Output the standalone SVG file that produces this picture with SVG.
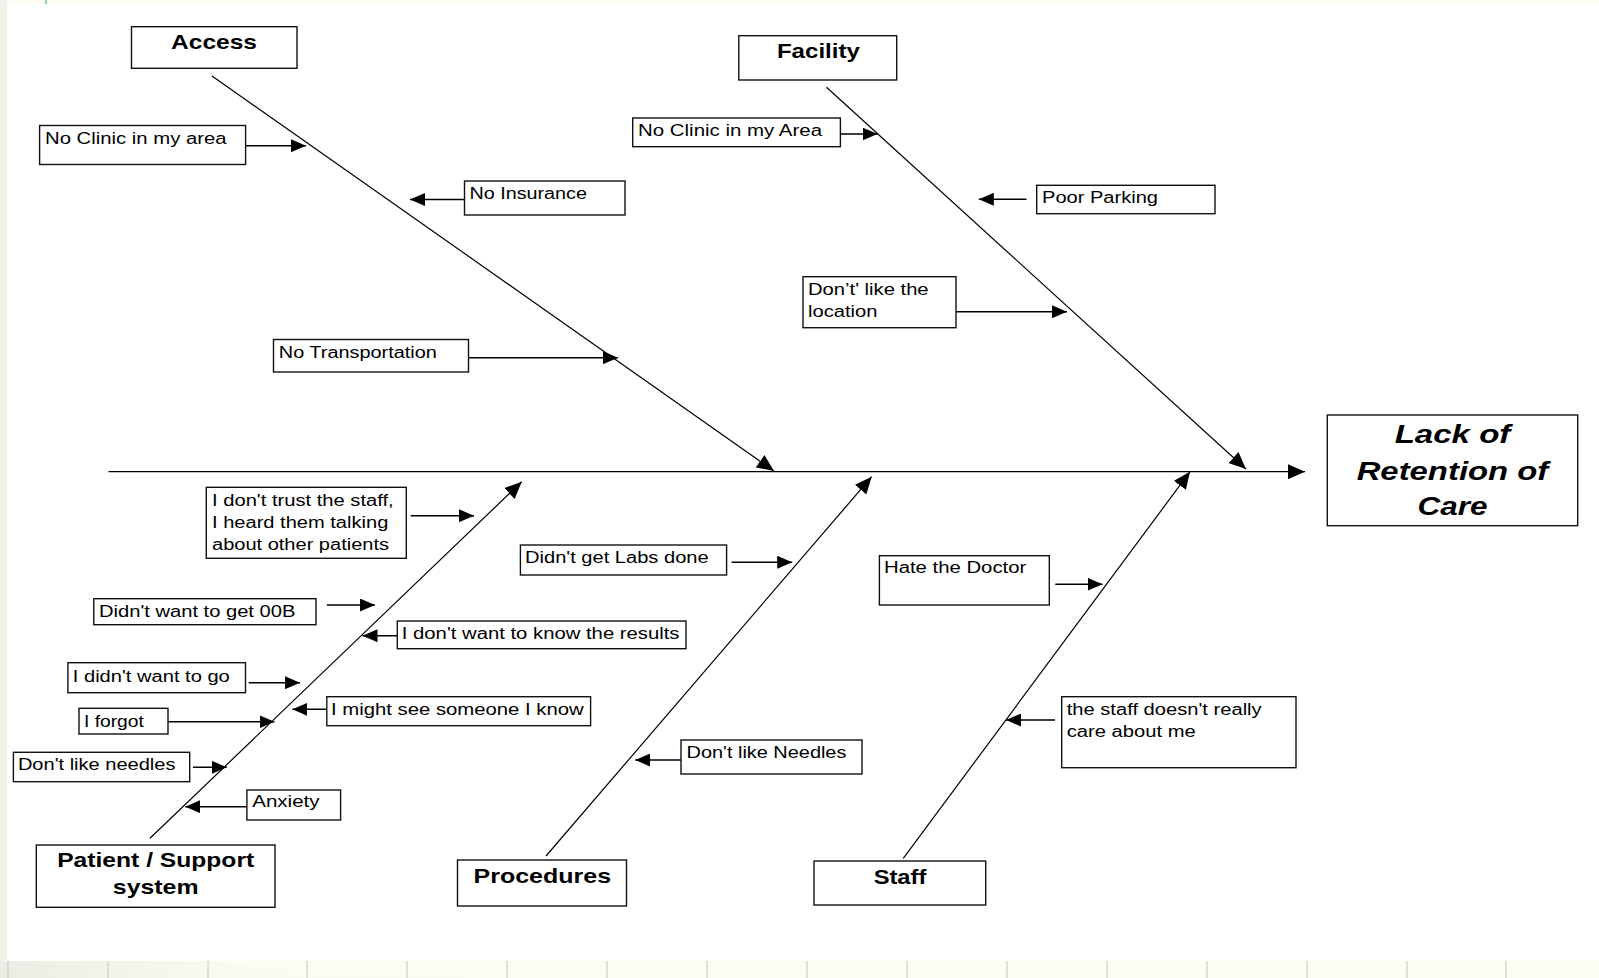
<svg xmlns="http://www.w3.org/2000/svg" width="1599" height="978" viewBox="0 0 1599 978">
<style>
.box{fill:#fff;stroke:#111;stroke-width:1.4}
.t{font-family:"Liberation Sans",Arial,sans-serif;font-size:16px;fill:#000}
.h{font-family:"Liberation Sans",Arial,sans-serif;font-size:21px;font-weight:bold;fill:#000;text-anchor:middle}
.m{font-family:"Liberation Sans",Arial,sans-serif;font-size:25px;font-weight:bold;font-style:italic;fill:#000;text-anchor:middle}
.bone{stroke:#000;stroke-width:1.2;fill:none;marker-end:url(#bh)}
.lab{stroke:#000;stroke-width:1.4;fill:none;marker-end:url(#ah)}
.tick{stroke:#c4c4bc;stroke-width:1}
</style>
<defs>
<marker id="ah" markerUnits="userSpaceOnUse" markerWidth="16" markerHeight="13" refX="15" refY="6.5" orient="auto"><path d="M0,0 L15,6.5 L0,13 z" fill="#000"/></marker>
<marker id="bh" markerUnits="userSpaceOnUse" markerWidth="18" markerHeight="15" refX="17" refY="7.5" orient="auto"><path d="M0,0 L17,7.5 L0,15 z" fill="#000"/></marker>
<linearGradient id="bg" x1="0" y1="0" x2="1" y2="0"><stop offset="0" stop-color="#ececE4"/><stop offset="0.15" stop-color="#fbfbf1"/><stop offset="1" stop-color="#fdfdf4"/></linearGradient>
</defs>
<rect x="0" y="0" width="1599" height="978" fill="#fff"/>
<rect x="0" y="0" width="1599" height="4" fill="#fbfbf1"/>
<rect x="0" y="0" width="7" height="978" fill="#f1f1e9"/>
<line x1="46" y1="0" x2="46" y2="4" stroke="#6cc0b0" stroke-width="1.5"/>
<rect x="0" y="961" width="1599" height="17" fill="url(#bg)"/>
<g class="tick">
<line x1="8" y1="961" x2="8" y2="978"/><line x1="108" y1="961" x2="108" y2="978"/><line x1="208" y1="961" x2="208" y2="978"/><line x1="307" y1="961" x2="307" y2="978"/><line x1="407" y1="961" x2="407" y2="978"/><line x1="507" y1="961" x2="507" y2="978"/><line x1="607" y1="961" x2="607" y2="978"/><line x1="707" y1="961" x2="707" y2="978"/><line x1="807" y1="961" x2="807" y2="978"/><line x1="907" y1="961" x2="907" y2="978"/><line x1="1007" y1="961" x2="1007" y2="978"/><line x1="1107" y1="961" x2="1107" y2="978"/><line x1="1207" y1="961" x2="1207" y2="978"/><line x1="1307" y1="961" x2="1307" y2="978"/><line x1="1407" y1="961" x2="1407" y2="978"/><line x1="1506" y1="961" x2="1506" y2="978"/>
</g>

<g id="connectors">
<path class="bone" d="M108.5,471.7 L1305,471.7"/>
<path class="bone" d="M212,76 L774,471"/>
<path class="bone" d="M826.5,87.3 L1246,469"/>
<path class="bone" d="M150,838.3 L521.7,481.7"/>
<path class="bone" d="M546,856 L871.7,476.7"/>
<path class="bone" d="M903.3,858.3 L1190,471.7"/>
<path class="lab" d="M245.6,145.7 L306,145.7"/>
<path class="lab" d="M464.5,199.5 L410,199.5"/>
<path class="lab" d="M468.5,357.7 L618,357.7"/>
<path class="lab" d="M840.4,134 L877.5,134"/>
<path class="lab" d="M1026.5,199.3 L978.8,199.3"/>
<path class="lab" d="M956,311.7 L1067,311.7"/>
<path class="lab" d="M410.7,515.7 L474,515.7"/>
<path class="lab" d="M326.8,605 L375,605"/>
<path class="lab" d="M397.3,635.7 L362.5,635.7"/>
<path class="lab" d="M248.7,682.7 L300,682.7"/>
<path class="lab" d="M168,721.7 L274.5,721.7"/>
<path class="lab" d="M326.8,709.3 L292.4,709.3"/>
<path class="lab" d="M192.9,767.3 L226.8,767.3"/>
<path class="lab" d="M246.9,806.7 L185.3,806.7"/>
<path class="lab" d="M731.6,562.3 L792.2,562.3"/>
<path class="lab" d="M1055.3,584.3 L1102.5,584.3"/>
<path class="lab" d="M681,760 L635.2,760"/>
<path class="lab" d="M1055,720 L1006,720"/>
</g>

<g id="effect"><rect class="box" x="1327.3" y="415" width="250.4" height="110.7"/>
<text class="m" x="1452.5" y="443.3" textLength="115.7" lengthAdjust="spacingAndGlyphs">Lack of</text>
<text class="m" x="1452.5" y="480" textLength="191.7" lengthAdjust="spacingAndGlyphs">Retention of</text>
<text class="m" x="1452.5" y="515" textLength="70" lengthAdjust="spacingAndGlyphs">Care</text></g>

<g id="access"><rect class="box" x="131.5" y="26.7" width="165.5" height="41.6"/><text class="h" x="214" y="49.3" textLength="86" lengthAdjust="spacingAndGlyphs">Access</text></g>
<g id="facility"><rect class="box" x="738.8" y="35.7" width="157.9" height="44.3"/><text class="h" x="818.4" y="58.3" textLength="83" lengthAdjust="spacingAndGlyphs">Facility</text></g>
<g id="patient"><rect class="box" x="36.3" y="845" width="238.7" height="62.3"/><text class="h" x="155.7" y="867" textLength="197" lengthAdjust="spacingAndGlyphs">Patient / Support</text><text class="h" x="155.7" y="894" textLength="85.7" lengthAdjust="spacingAndGlyphs">system</text></g>
<g id="procedures"><rect class="box" x="457.5" y="860" width="169" height="46"/><text class="h" x="542.3" y="882.7" textLength="137.5" lengthAdjust="spacingAndGlyphs">Procedures</text></g>
<g id="staff"><rect class="box" x="814" y="861" width="171.7" height="44"/><text class="h" x="900" y="884" textLength="52.7" lengthAdjust="spacingAndGlyphs">Staff</text></g>

<g id="c1"><rect class="box" x="39.6" y="125.5" width="206" height="39"/><text class="t" x="45" y="143.5" textLength="181.6" lengthAdjust="spacingAndGlyphs">No Clinic in my area</text></g>
<g id="c2"><rect class="box" x="464.5" y="181" width="160.5" height="34"/><text class="t" x="469.4" y="198.5" textLength="117.6" lengthAdjust="spacingAndGlyphs">No Insurance</text></g>
<g id="c3"><rect class="box" x="273.5" y="339.5" width="195" height="32.5"/><text class="t" x="278.8" y="357.5" textLength="158" lengthAdjust="spacingAndGlyphs">No Transportation</text></g>
<g id="c4"><rect class="box" x="632.7" y="118" width="207.7" height="28.7"/><text class="t" x="638" y="136" textLength="184" lengthAdjust="spacingAndGlyphs">No Clinic in my Area</text></g>
<g id="c5"><rect class="box" x="1036.7" y="185.3" width="178.3" height="28.4"/><text class="t" x="1042" y="203" textLength="116" lengthAdjust="spacingAndGlyphs">Poor Parking</text></g>
<g id="c6"><rect class="box" x="803" y="276.7" width="153" height="51"/><text class="t" x="808" y="295" textLength="120.6" lengthAdjust="spacingAndGlyphs">Don’t' like the</text><text class="t" x="808" y="316.7" textLength="69.5" lengthAdjust="spacingAndGlyphs">location</text></g>
<g id="c7"><rect class="box" x="206.3" y="487.3" width="200" height="71"/><text class="t" x="212" y="505.7" textLength="181.7" lengthAdjust="spacingAndGlyphs">I don't trust the staff,</text><text class="t" x="212" y="527.7" textLength="176.3" lengthAdjust="spacingAndGlyphs">I heard them talking</text><text class="t" x="212" y="550" textLength="177" lengthAdjust="spacingAndGlyphs">about other patients</text></g>
<g id="c8"><rect class="box" x="93.8" y="598.7" width="222.2" height="26"/><text class="t" x="99" y="616.7" textLength="196.4" lengthAdjust="spacingAndGlyphs">Didn't want to get 00B</text></g>
<g id="c9"><rect class="box" x="397.3" y="621" width="288.7" height="27.7"/><text class="t" x="401.8" y="639.3" textLength="277.7" lengthAdjust="spacingAndGlyphs">I don't want to know the results</text></g>
<g id="c10"><rect class="box" x="67.9" y="662.7" width="177.6" height="30"/><text class="t" x="72.8" y="681.5" textLength="157" lengthAdjust="spacingAndGlyphs">I didn't want to go</text></g>
<g id="c11"><rect class="box" x="79" y="708.3" width="89" height="25.7"/><text class="t" x="84" y="726.5" textLength="59.8" lengthAdjust="spacingAndGlyphs">I forgot</text></g>
<g id="c12"><rect class="box" x="326.8" y="696.7" width="263.8" height="29"/><text class="t" x="331" y="715" textLength="252.7" lengthAdjust="spacingAndGlyphs">I might see someone I know</text></g>
<g id="c13"><rect class="box" x="13.4" y="752.3" width="176.3" height="29.4"/><text class="t" x="17.9" y="770" textLength="157.6" lengthAdjust="spacingAndGlyphs">Don't like needles</text></g>
<g id="c14"><rect class="box" x="246.9" y="790" width="93.7" height="30"/><text class="t" x="252.2" y="807.3" textLength="67.4" lengthAdjust="spacingAndGlyphs">Anxiety</text></g>
<g id="c15"><rect class="box" x="520.4" y="545" width="206.2" height="30"/><text class="t" x="525" y="563.3" textLength="183.7" lengthAdjust="spacingAndGlyphs">Didn't get Labs done</text></g>
<g id="c16"><rect class="box" x="879.4" y="555.7" width="169.9" height="49.3"/><text class="t" x="884" y="573.3" textLength="142.3" lengthAdjust="spacingAndGlyphs">Hate the Doctor</text></g>
<g id="c17"><rect class="box" x="681" y="740" width="181" height="34"/><text class="t" x="686.6" y="758.3" textLength="159.8" lengthAdjust="spacingAndGlyphs">Don't like Needles</text></g>
<g id="c18"><rect class="box" x="1061.7" y="696.7" width="234.3" height="71"/><text class="t" x="1066.7" y="715" textLength="195" lengthAdjust="spacingAndGlyphs">the staff doesn't really</text><text class="t" x="1066.7" y="736.7" textLength="129" lengthAdjust="spacingAndGlyphs">care about me</text></g>
</svg>
